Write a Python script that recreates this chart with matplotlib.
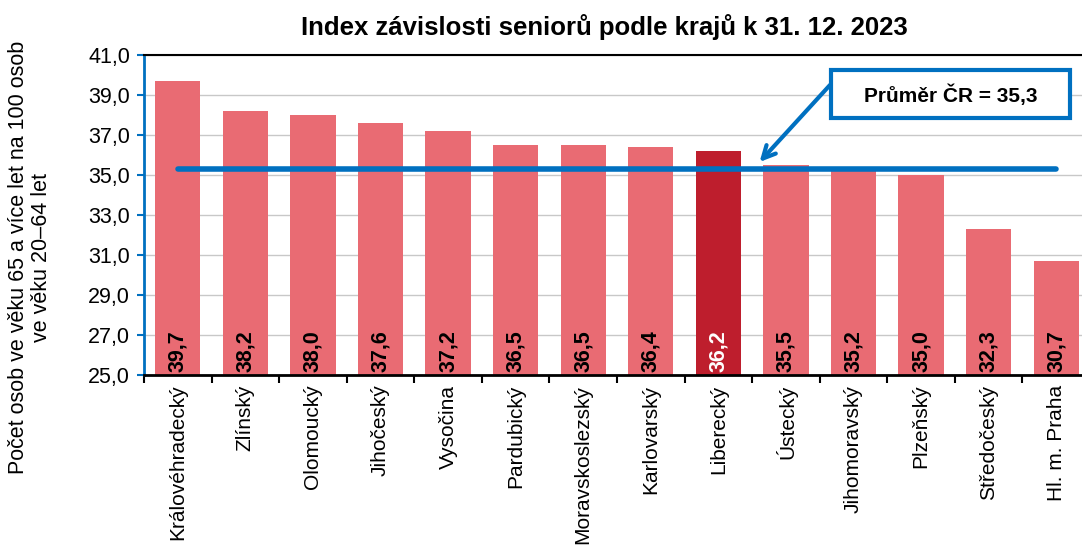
import numpy as np
import matplotlib
matplotlib.use("Agg")
import matplotlib.pyplot as plt
import matplotlib.patches as mpatches
from matplotlib.ticker import FixedLocator

plt.rcParams['font.family'] = ['Liberation Sans', 'DejaVu Sans']

# ========== DATA ==========
regions = ["Královéhradecký", "Zlínský", "Olomoucký", "Jihočeský", "Vysočina",
           "Pardubický", "Moravskoslezský", "Karlovarský", "Liberecký", "Ústecký",
           "Jihomoravský", "Plzeňský", "Středočeský", "Hl. m. Praha"]
values = [39.7, 38.2, 38.0, 37.6, 37.2, 36.5, 36.5, 36.4, 36.2, 35.5, 35.2, 35.0, 32.3, 30.7]
average = 35.3
highlight = "Liberecký"

BAR_COLOR = "#E96B73"
HIGHLIGHT_COLOR = "#BE1E2D"
BLUE = "#0070C0"
W, H = 1082, 545

fig = plt.figure(figsize=(W / 100, H / 100), dpi=100)
ax = fig.add_axes([144 / W, 1 - 375 / H, (1090 - 144) / W, 320 / H])

x = np.arange(len(regions))
colors = [HIGHLIGHT_COLOR if r == highlight else BAR_COLOR for r in regions]
ax.bar(x, values, width=0.67, color=colors, zorder=2)

ax.set_xlim(-0.5, len(regions) - 0.5)
ax.set_ylim(25, 41)
yt = np.arange(25, 41.1, 2)
ax.set_yticks(yt)
ax.set_yticklabels([f"{v:.1f}".replace(".", ",") for v in yt], fontsize=15.5)
ax.yaxis.grid(True, color="#C8C8C8", linewidth=1, zorder=0)
ax.set_axisbelow(True)

ax.set_xticks(x)
ax.set_xticklabels(regions, rotation=90, fontsize=15)
ax.xaxis.set_minor_locator(FixedLocator(np.arange(-0.5, len(regions), 1)))
ax.tick_params(axis='x', which='major', length=0, pad=7)
ax.tick_params(axis='x', which='minor', length=6, width=1.5, color='black', direction='out')
ax.tick_params(axis='y', length=5, width=1.5, color=BLUE, pad=5)

ax.spines['left'].set_color(BLUE)
ax.spines['left'].set_linewidth(2)
ax.spines['bottom'].set_color('black')
ax.spines['bottom'].set_linewidth(2)
ax.spines['top'].set_color('black')
ax.spines['top'].set_linewidth(1.5)
ax.spines['right'].set_visible(False)

# hodnoty ve sloupcích
for xi, v, c in zip(x, values, colors):
    tcol = 'white' if c == HIGHLIGHT_COLOR else 'black'
    ax.text(xi, 25.15, f"{v:.1f}".replace(".", ","), rotation=90, ha='center', va='bottom',
            fontsize=15.5, fontweight='bold', color=tcol, zorder=3)

# průměr ČR
ax.plot([x[0], x[-1]], [average, average], color=BLUE, linewidth=4,
        solid_capstyle='round', zorder=4)

# popisek průměru s šipkou
ax.annotate("", xy=(8.61, 35.65), xycoords='data',
            xytext=(830, H - 85), textcoords='figure pixels',
            arrowprops=dict(arrowstyle='->,head_length=0.9,head_width=0.45', color=BLUE, lw=3,
                            shrinkA=0, shrinkB=0), zorder=5)
fig.patches.append(mpatches.Rectangle((831 / W, 1 - 118 / H), 239 / W, 48 / H,
                                      transform=fig.transFigure, facecolor='white',
                                      edgecolor=BLUE, linewidth=3, zorder=6))
fig.text(951 / W, 1 - 95 / H, f"Průměr ČR = {average:.1f}".replace(".", ","),
         ha='center', va='center', fontsize=15, fontweight='bold', zorder=7)

ax.set_ylabel("Počet osob ve věku 65 a více let na 100 osob\nve věku 20–64 let", fontsize=15.5,
              linespacing=1.1, va='center', ha='center')
ax.yaxis.set_label_coords((30 - 144) / 946, (375 - 257) / 320)

fig.text(604 / W, 1 - 27 / H, "Index závislosti seniorů podle krajů k 31. 12. 2023",
         ha='center', va='center', fontsize=18.5, fontweight='bold')

plt.savefig("out.png", dpi=100)
